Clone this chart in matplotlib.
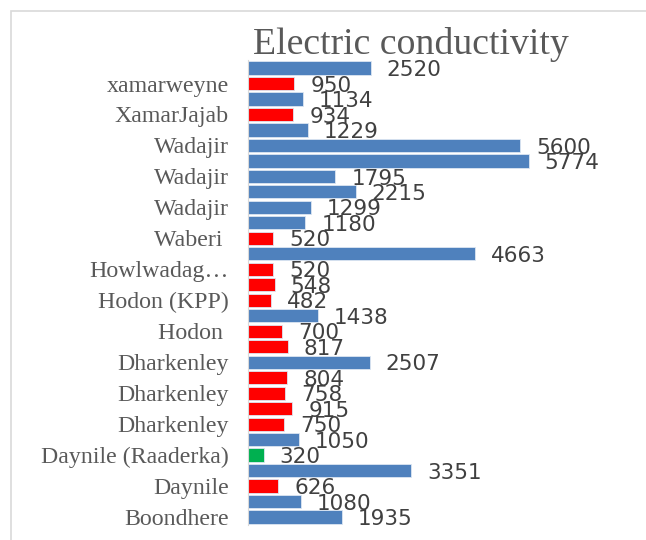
import matplotlib.pyplot as plt
from matplotlib.patches import Rectangle
import numpy as np

# bars listed top to bottom
values = [2520, 950, 1134, 934, 1229, 5600, 5774, 1795, 2215, 1299,
          1180, 520, 4663, 520, 548, 482, 1438, 700, 817, 2507,
          804, 758, 915, 750, 1050, 320, 3351, 626, 1080, 1935]
# only every other category name is printed on the axis
labels = ["xamarweyne", "XamarJajab", "Wadajir", "Wadajir", "Wadajir",
          "Waberi ", "Howlwadag\u2026", "Hodon (KPP)", "Hodon ", "Dharkenley",
          "Dharkenley", "Dharkenley", "Daynile (Raaderka)", "Daynile", "Boondhere"]
# b = blue, r = red, g = green
bar_class = ["b", "r", "b", "r", "b", "b", "b", "b", "b", "b",
             "b", "r", "b", "r", "r", "r", "b", "r", "r", "b",
             "r", "r", "r", "r", "b", "g", "b", "r", "b", "b"]

palette = {"b": "#4F81BD", "r": "#FF0000", "g": "#00B050"}

fig = plt.figure(figsize=(6.46, 5.40), dpi=100)

# light chart frame (cropped on the right and bottom)
fig.patches.append(Rectangle((11 / 646, -0.1), 1.2, 1 - 11 / 540 + 0.1,
                             transform=fig.transFigure, fill=False,
                             edgecolor="#d9d9d9", linewidth=1.2))

ax = fig.add_axes([248 / 646, 0.0283, 316 / 646, 0.86])
y = np.arange(len(values))
colors = [palette[c] for c in bar_class]
ax.barh(y, values, height=0.85, color=colors, edgecolor="#dce6f2", linewidth=0.6)
ax.set_ylim(len(values) - 0.5, -0.5)
ax.set_xlim(0, 6500)

for yi, v in zip(y, values):
    ax.annotate(str(v), (v, yi), xytext=(11.5, -1.5), textcoords="offset points",
                ha="left", va="center", fontsize=15.5,
                family=["Liberation Sans Narrow", "DejaVu Sans"], color="#404040")

ax.set_yticks(y[1::2])
ax.set_yticklabels(labels, family="Liberation Serif", fontsize=17.2, color="#595959")
ax.tick_params(axis="y", length=0, pad=14)
ax.set_xticks([])
for s in ["top", "right", "bottom"]:
    ax.spines[s].set_visible(False)
ax.spines["left"].set_color("#d9d9d9")
ax.patch.set_alpha(0)

fig.text(411 / 646, 1 - 44 / 540, "Electric conductivity", ha="center", va="center",
         family="Liberation Serif", fontsize=27.2, color="#595959")

fig.savefig("out.png", dpi=100)
